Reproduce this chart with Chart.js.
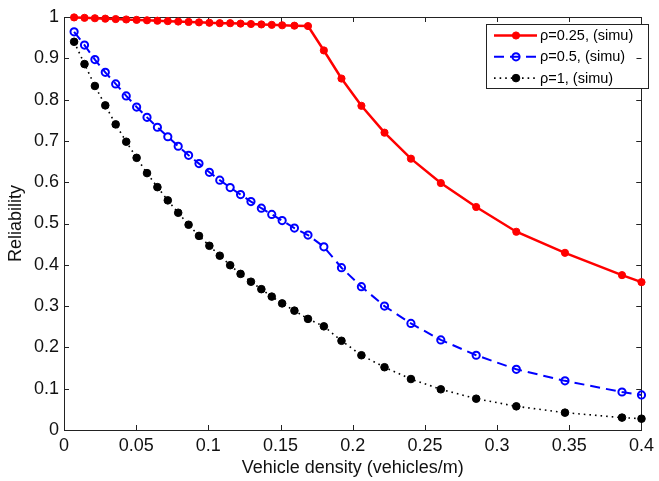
<!DOCTYPE html>
<html><head><meta charset="utf-8">
<script src="https://cdn.jsdelivr.net/npm/chart.js@4/dist/chart.umd.min.js"></script>
<style>html,body{margin:0;padding:0;background:#fff;}canvas{display:block;}</style>
</head><body>
<canvas id="c" width="659" height="481"></canvas>
<script>
// ---- data ----
const xValues = [0.0070, 0.0142, 0.0214, 0.0286, 0.0358, 0.0431, 0.0503, 0.0575, 0.0647, 0.0719,
  0.0791, 0.0863, 0.0935, 0.1007, 0.1079, 0.1151, 0.1223, 0.1295, 0.1367, 0.1439,
  0.1511, 0.1596, 0.1690, 0.1800, 0.1922, 0.2060, 0.2220, 0.2403, 0.2610, 0.2855,
  0.3133, 0.3470, 0.3865, 0.4000];
const rho025 = [0.999, 0.998, 0.997, 0.996, 0.995, 0.994, 0.993, 0.992, 0.991, 0.990,
  0.989, 0.988, 0.987, 0.986, 0.985, 0.985, 0.984, 0.983, 0.982, 0.981,
  0.980, 0.979, 0.978, 0.919, 0.851, 0.785, 0.720, 0.657, 0.598, 0.540,
  0.480, 0.429, 0.375, 0.358];
const rho05 = [0.964, 0.932, 0.897, 0.866, 0.838, 0.809, 0.782, 0.757, 0.733, 0.710,
  0.687, 0.665, 0.645, 0.624, 0.605, 0.587, 0.570, 0.553, 0.537, 0.522,
  0.507, 0.489, 0.472, 0.4435, 0.393, 0.347, 0.300, 0.258, 0.218, 0.181,
  0.147, 0.119, 0.092, 0.085];
const rho1 = [0.940, 0.886, 0.833, 0.786, 0.740, 0.698, 0.659, 0.622, 0.588, 0.556,
  0.526, 0.497, 0.470, 0.446, 0.422, 0.399, 0.378, 0.359, 0.341, 0.323,
  0.3065, 0.289, 0.269, 0.251, 0.216, 0.181, 0.152, 0.1234, 0.0985, 0.0758,
  0.0573, 0.042, 0.030, 0.0274];
const seriesLabels = ['\u03c1=0.25, (simu)', '\u03c1=0.5, (simu)', '\u03c1=1, (simu)'];
const xTickLabels = ['0', '0.05', '0.1', '0.15', '0.2', '0.25', '0.3', '0.35', '0.4'];
const yTickLabels = ['0', '0.1', '0.2', '0.3', '0.4', '0.5', '0.6', '0.7', '0.8', '0.9', '1'];
const xTitle = 'Vehicle density (vehicles/m)';
const yTitle = 'Reliability';

// ---- chart ----
const FONT = "'Liberation Sans', Arial, Helvetica, sans-serif";
const pts = arr => xValues.map((x, i) => ({x: x, y: arr[i]}));

const styles = [
  {color: '#ff0000', width: 2.5, dash: [], radius: 3.6, fill: true, bw: 1},
  {color: '#0000ff', width: 2, dash: [10, 6], radius: 3.6, fill: false, bw: 2},
  {color: '#000000', width: 1.6, dash: [1.6, 4], radius: 3.8, fill: true, bw: 1}
];
const series = [rho025, rho05, rho1];

const datasets = series.map((arr, i) => {
  const s = styles[i];
  return {
    label: seriesLabels[i],
    data: pts(arr),
    borderColor: s.color,
    borderWidth: s.width,
    borderDash: s.dash,
    backgroundColor: s.color,
    pointRadius: s.radius,
    pointHoverRadius: s.radius,
    pointBackgroundColor: s.fill ? s.color : 'rgba(0,0,0,0)',
    pointBorderColor: s.color,
    pointBorderWidth: s.bw,
    tension: 0,
    fill: false,
    clip: false
  };
});

function drawTicks(chart, onlyRight) {
  const ctx = chart.ctx, a = chart.chartArea;
  const xs = chart.scales.x, ys = chart.scales.y;
  const L = 5;
  ctx.save();
  ctx.strokeStyle = '#222';
  ctx.lineWidth = 1;
  ctx.beginPath();
  if (!onlyRight) {
    xs.ticks.forEach(t => {
      const px = Math.round(xs.getPixelForValue(t.value)) + 0.5;
      ctx.moveTo(px, a.bottom); ctx.lineTo(px, a.bottom - L);
      ctx.moveTo(px, a.top); ctx.lineTo(px, a.top + L);
    });
  }
  ys.ticks.forEach(t => {
    const py = Math.round(ys.getPixelForValue(t.value)) + 0.5;
    if (!onlyRight) { ctx.moveTo(a.left, py); ctx.lineTo(a.left + L, py); }
    ctx.moveTo(a.right, py); ctx.lineTo(a.right - L, py);
  });
  ctx.stroke();
  ctx.restore();
}

const framePlugin = {
  id: 'frame',
  beforeDatasetsDraw(chart) {
    const ctx = chart.ctx, a = chart.chartArea;
    ctx.save();
    ctx.strokeStyle = '#222';
    ctx.lineWidth = 1;
    ctx.strokeRect(Math.round(a.left) + 0.5, Math.round(a.top) + 0.5,
      Math.round(a.right - a.left), Math.round(a.bottom - a.top));
    ctx.restore();
    drawTicks(chart, false);
  },
  afterDraw(chart) {
    const ctx = chart.ctx;
    const lx = 486, ly = 24, lw = 162, lh = 64;
    ctx.save();
    ctx.fillStyle = '#fff';
    ctx.fillRect(lx, ly, lw, lh);
    ctx.strokeStyle = '#222';
    ctx.lineWidth = 1;
    ctx.strokeRect(lx + 0.5, ly + 0.5, lw, lh);
    chart.data.datasets.forEach((ds, i) => {
      const y = ly + 11.5 + i * 21.3;
      ctx.save();
      ctx.strokeStyle = ds.borderColor;
      ctx.lineWidth = ds.borderWidth;
      ctx.setLineDash(ds.borderDash);
      ctx.beginPath();
      ctx.moveTo(494, y); ctx.lineTo(537, y);
      ctx.stroke();
      ctx.setLineDash([]);
      ctx.beginPath();
      ctx.arc(516, y, ds.pointRadius, 0, Math.PI * 2);
      if (ds.pointBackgroundColor !== 'rgba(0,0,0,0)') {
        ctx.fillStyle = ds.pointBackgroundColor; ctx.fill();
      }
      ctx.lineWidth = ds.pointBorderWidth;
      ctx.strokeStyle = ds.pointBorderColor;
      ctx.stroke();
      ctx.restore();
      ctx.fillStyle = '#000';
      ctx.font = '14.5px ' + FONT;
      ctx.textBaseline = 'middle';
      ctx.textAlign = 'left';
      ctx.fillText(ds.label, 540, y + 0.5);
    });
    ctx.restore();
    drawTicks(chart, true);
  }
};

new Chart(document.getElementById('c'), {
  type: 'line',
  data: {datasets: datasets},
  plugins: [framePlugin],
  options: {
    responsive: false,
    devicePixelRatio: 1,
    animation: false,
    layout: {padding: {top: 17, right: 14, left: 0, bottom: 0}},
    plugins: {legend: {display: false}, tooltip: {enabled: false}},
    scales: {
      x: {
        type: 'linear', min: 0, max: 0.4,
        grid: {display: false, drawTicks: false},
        border: {display: false},
        ticks: {
          stepSize: 0.05, padding: 5, color: '#111',
          font: {family: FONT, size: 18},
          maxRotation: 0, autoSkip: false,
          callback: (v, i) => xTickLabels[i]
        },
        title: {display: true, text: xTitle, color: '#111',
          font: {family: FONT, size: 18}, padding: {top: 0, bottom: 2.5}},
        afterFit: s => { s.height = 51; }
      },
      y: {
        type: 'linear', min: 0, max: 1,
        grid: {display: false, drawTicks: false},
        border: {display: false},
        ticks: {
          stepSize: 0.1, padding: 5, color: '#111',
          font: {family: FONT, size: 18},
          autoSkip: false,
          callback: (v, i) => yTickLabels[i]
        },
        title: {display: true, text: yTitle, color: '#111',
          font: {family: FONT, size: 18}, padding: {top: 5.5, bottom: 0}},
        afterFit: s => { s.width = 64; }
      }
    }
  }
});
</script>
</body></html>
